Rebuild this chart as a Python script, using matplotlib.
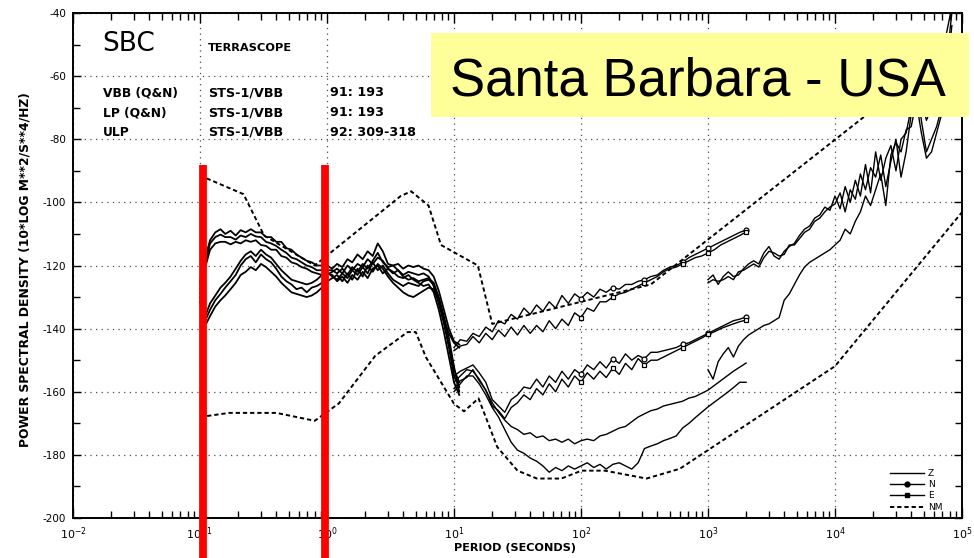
import matplotlib
matplotlib.use("Agg")
import matplotlib.pyplot as plt
from matplotlib.lines import Line2D
from matplotlib.patches import Rectangle
from matplotlib.ticker import LogLocator, NullFormatter, FixedLocator

plt.rcParams['font.family'] = ['DejaVu Sans']
plt.rcParams['axes.unicode_minus'] = False

# ---------------- data ----------------
x_ticks = [1e-2, 1e-1, 1e0, 1e1, 1e2, 1e3, 1e4, 1e5]
x_tick_labels = ['$10^{-2}$', '$10^{-1}$', '$10^{0}$', '$10^{1}$',
                 '$10^{2}$', '$10^{3}$', '$10^{4}$', '$10^{5}$']
y_ticks = [-200, -180, -160, -140, -120, -100, -80, -60, -40]
y_tick_labels = ['-200', '-180', '-160', '-140', '-120', '-100', '-80', '-60', '-40']

# Peterson noise models (NM)
nhnm_period = [0.1, 0.22, 0.32, 0.8, 3.8, 4.6, 6.3, 7.9, 15.4, 20.0, 354.8, 100000]
nhnm_db = [-91.5, -97.4, -110.5, -120.0, -98.0, -96.5, -101.0, -113.5, -120.0, -138.5, -126.0, -48.5]
nlnm_period = [0.1, 0.17, 0.4, 0.8, 1.24, 2.4, 4.3, 5.0, 6.0, 10.0, 12.0, 15.6, 21.9,
               31.6, 45.0, 70.0, 101.0, 154.0, 328.0, 600.0, 10000, 100000]
nlnm_db = [-168.0, -166.7, -166.7, -169.2, -163.7, -148.6, -141.1, -141.1, -149.0, -163.8,
           -166.2, -162.1, -177.5, -185.0, -187.5, -187.5, -185.0, -185.0, -187.5, -184.4,
           -151.9, -103.1]

# VBB band (0.1 - 11 s)
vbb_period = [0.100, 0.110, 0.120, 0.132, 0.145, 0.158, 0.174, 0.191, 0.209, 0.229,
              0.251, 0.275, 0.302, 0.331, 0.363, 0.398, 0.437, 0.479, 0.525, 0.575,
              0.631, 0.692, 0.759, 0.832, 0.912, 1.00, 1.10, 1.20, 1.32, 1.45,
              1.58, 1.74, 1.91, 2.09, 2.29, 2.51, 2.75, 3.02, 3.31, 3.63,
              3.98, 4.37, 4.79, 5.25, 5.75, 6.31, 6.92, 7.59, 8.32, 9.12, 10.0, 11.0]
vbb_1 = [-125.0, -117.5, -112.0, -109.5, -108.5, -110.0, -109.0, -110.5, -108.8, -109.5,
         -108.5, -109.5, -109.5, -111.0, -111.0, -112.5, -112.5, -114.5, -115.0, -116.5,
         -117.5, -118.5, -119.0, -120.0, -120.0, -120.0,
         -121.0, -119.5, -120.5, -118.0, -119.0, -116.5, -118.0, -115.5, -117.0, -113.0,
         -115.5, -119.5, -120.0, -119.5, -121.0, -120.0, -120.5, -120.0, -121.0, -121.5,
         -123.5, -128.0, -134.0, -140.0, -144.0, -145.0]
vbb_2 = [-127.5, -120.5, -115.0, -113.0, -112.5, -112.5, -113.3, -112.5, -113.0, -112.0,
         -112.5, -112.0, -113.5, -113.8, -115.0, -115.0, -117.0, -117.5, -119.0, -119.5,
         -120.5, -121.0, -122.0, -122.5, -123.0, -123.0,
         -122.0, -121.0, -122.5, -120.0, -121.5, -119.5, -120.5, -118.0, -119.5, -117.5,
         -118.5, -121.0, -122.5, -121.5, -123.0, -122.0, -122.5, -123.0, -122.5, -123.5,
         -126.5, -132.0, -138.0, -145.0, -153.0, -157.0]
vbb_3 = [-126.0, -119.0, -113.0, -111.0, -110.2, -111.0, -111.0, -111.8, -110.5, -111.0,
         -110.0, -110.8, -111.0, -112.5, -113.0, -113.8, -115.0, -116.0, -117.5, -118.0,
         -119.0, -120.0, -120.5, -121.5, -121.5, -121.5,
         -121.5, -122.5, -121.0, -123.0, -120.5, -122.0, -119.5, -121.0, -118.5, -116.0,
         -119.0, -120.5, -120.0, -121.5, -123.5, -124.5, -124.0, -125.0, -124.5, -124.0,
         -125.5, -130.0, -136.0, -143.0, -152.0, -160.0]
vbb_4 = [-128.5, -136.0, -132.0, -129.5, -127.0, -125.5, -123.5, -121.0, -118.5, -116.5,
         -115.5, -117.0, -115.0, -116.5, -117.5, -119.5, -121.5, -123.0, -124.5, -125.0,
         -125.5, -126.0, -125.5, -124.5, -123.0, -122.0,
         -123.5, -124.5, -122.5, -124.0, -121.5, -123.0, -120.5, -122.5, -119.0, -121.5,
         -120.0, -122.5, -124.5, -125.5, -126.5, -125.5, -126.0, -126.5, -125.0, -124.5,
         -126.0, -131.0, -137.0, -141.5, -144.5, -146.0]
vbb_5 = [-131.5, -139.0, -136.0, -133.0, -131.0, -129.5, -127.5, -125.5, -123.0, -122.0,
         -120.5, -121.5, -119.5, -120.5, -122.0, -123.5, -125.5, -127.0, -128.5, -129.0,
         -129.5, -130.0, -129.5, -128.5, -127.0, -125.0,
         -124.0, -123.0, -125.0, -122.5, -124.5, -121.0, -123.5, -120.0, -122.0, -119.5,
         -121.0, -123.5, -125.5, -127.0, -128.5, -129.5, -130.0, -129.0, -128.0, -127.0,
         -127.5, -131.5, -138.0, -146.0, -155.0, -158.5]
vbb_6 = [-130.0, -137.5, -134.0, -131.0, -129.0, -127.0, -125.0, -123.0, -120.0, -118.0,
         -117.0, -119.0, -116.5, -118.0, -119.0, -121.0, -123.5, -125.0, -126.0, -127.5,
         -127.0, -128.5, -127.0, -126.5, -125.5, -122.5,
         -123.0, -125.0, -123.5, -125.5, -123.0, -124.5, -122.0, -124.0, -121.0, -120.0,
         -122.5, -121.0, -122.0, -123.5, -124.0, -123.0, -124.5, -125.5, -126.5, -126.0,
         -128.5, -134.0, -141.0, -149.0, -157.0, -161.0]

# LP band (10 - 2000 s)
lp_period = [10.0, 11.2, 12.6, 14.1, 15.8, 17.8, 20.0, 22.4, 25.1, 28.2,
             31.6, 35.5, 39.8, 44.7, 50.1, 56.2, 63.1, 70.8, 79.4, 89.1,
             100, 112, 126, 141, 158, 178, 200, 224, 251, 282,
             316, 355, 398, 447, 501, 562, 631, 708, 794, 891,
             1000, 1122, 1259, 1413, 1585, 1778, 1995]
lp_n_noisy = [-146.0, -143.5, -144.0, -141.5, -142.5, -139.5, -141.0, -137.5, -138.5, -135.5,
              -137.0, -133.5, -135.5, -132.5, -134.5, -131.5, -133.5, -129.5, -132.0, -129.0,
              -130.5, -128.5, -130.0, -127.5, -128.5, -127.0, -127.5, -126.0, -126.0, -125.0,
              -124.5, -123.5, -123.0, -121.5, -120.5, -120.0, -119.0, -117.5, -116.5, -115.5,
              -114.5, -113.5, -112.5, -111.5, -110.5, -109.5, -108.8]
lp_e_noisy = [-147.0, -145.5, -145.0, -142.5, -144.5, -141.5, -143.5, -140.5, -142.5, -139.5,
              -142.0, -139.0, -141.5, -139.0, -141.0, -137.5, -140.0, -137.0, -139.0, -135.0,
              -136.5, -133.5, -134.5, -131.5, -131.5, -130.0, -129.0, -128.5, -127.5, -126.5,
              -125.5, -124.5, -123.5, -122.0, -121.0, -120.5, -119.5, -118.5, -117.5, -117.0,
              -116.0, -115.0, -113.5, -112.5, -111.5, -110.5, -109.4]
lp_n_quiet = [-155.0, -153.5, -152.5, -151.5, -154.0, -157.0, -162.5, -164.5, -166.5, -162.5,
              -161.0, -158.5, -159.0, -156.0, -158.5, -155.0, -157.0, -153.5, -156.0, -153.0,
              -154.5, -151.5, -153.0, -150.5, -152.5, -149.5, -151.0, -148.0, -150.0, -148.5,
              -149.5, -147.5, -147.5, -147.0, -146.5, -146.0, -145.0, -144.5, -143.5, -142.5,
              -141.5, -140.5, -139.5, -138.5, -137.5, -137.0, -136.3]
lp_e_quiet = [-159.0, -156.5, -155.5, -153.0, -156.5, -159.5, -164.5, -166.0, -168.5, -165.0,
              -163.5, -161.0, -162.5, -159.0, -161.0, -157.5, -160.0, -156.0, -158.5, -155.0,
              -157.0, -154.0, -156.0, -153.5, -155.5, -152.5, -154.5, -151.0, -153.0, -149.5,
              -151.5, -150.0, -150.0, -149.0, -148.0, -147.0, -146.0, -145.0, -144.0, -143.0,
              -141.8, -141.0, -140.0, -139.2, -138.5, -137.8, -137.3]
lp_z_noisy = [-157.0, -155.0, -153.0, -153.5, -156.0, -159.5, -163.5, -166.5, -169.0, -171.0,
              -172.0, -173.5, -173.0, -174.5, -174.0, -175.5, -175.0, -176.0, -175.0, -176.5,
              -175.5, -175.0, -175.5, -174.0, -173.5, -172.5, -171.5, -171.0, -169.5, -168.0,
              -167.0, -166.0, -165.5, -164.5, -164.0, -163.5, -163.0, -162.0, -161.5, -160.5,
              -159.5, -158.0, -156.5, -155.0, -153.5, -152.2, -150.9]
lp_z_quiet = [-160.0, -157.5, -155.0, -155.0, -157.5, -161.0, -165.0, -168.0, -172.0, -176.0,
              -178.5, -179.5, -181.0, -182.0, -183.5, -185.5, -184.0, -185.0, -183.5, -184.5,
              -183.5, -182.5, -184.0, -183.0, -184.5, -183.0, -182.5, -183.5, -184.5, -182.5,
              -178.0, -177.2, -176.5, -175.5, -174.8, -174.0, -171.5, -170.0, -168.2, -166.5,
              -164.8, -163.3, -161.8, -160.3, -158.7, -157.0, -157.0]

# ULP band (1000 - 83000 s)
ulp_period = [1000, 1096, 1202, 1318, 1445, 1585, 1738, 1905, 2089, 2291,
              2512, 2754, 3020, 3311, 3631, 3981, 4365, 4786, 5248, 5754,
              6310, 6918, 7586, 8318, 9120, 10000, 10965, 12023, 13183, 14454,
              15849, 17378, 19055, 20893, 22909, 25119, 27542, 30200, 33113, 36308,
              39811, 43652, 47863, 52481, 57544, 63096, 69183, 75858, 83176]
ulp_a = [-124.5, -123.0, -126.0, -123.5, -122.0, -123.5, -123.0, -121.0, -119.5, -118.5,
         -119.5, -116.0, -114.0, -117.0, -118.0, -115.5, -114.0, -113.0, -110.5, -108.5,
         -107.5, -105.0, -104.0, -101.5, -102.5, -98.0, -102.0, -95.0, -100.0, -93.0,
         -98.0, -88.0, -97.0, -84.0, -93.0, -86.0, -82.0, -90.0, -80.0, -78.0,
         -70.0, -62.0, -74.0, -84.0, -80.0, -76.0, -70.0, -55.0, -40.0]
ulp_b = [-125.5, -124.5, -125.0, -124.5, -123.5, -124.5, -122.0, -121.5, -120.5, -119.5,
         -120.5, -117.5, -115.5, -116.0, -117.0, -116.5, -113.5, -113.5, -111.5, -109.5,
         -108.5, -106.0, -105.0, -103.0, -101.5, -100.5, -97.0, -103.0, -96.0, -99.0,
         -91.0, -96.0, -89.0, -92.0, -85.0, -95.0, -87.0, -80.0, -92.0, -84.0,
         -72.0, -64.0, -68.0, -74.0, -70.0, -62.0, -56.0, -46.0, -38.0]
ulp_z = [-153.0, -156.0, -150.5, -148.0, -146.0, -149.0, -145.5, -143.5, -142.0, -141.0,
         -140.0, -139.0, -138.5, -137.5, -136.5, -131.0, -129.0, -126.0, -123.0, -120.5,
         -119.0, -118.0, -117.0, -116.0, -115.0, -113.5, -112.0, -108.5, -110.0, -106.0,
         -103.0, -98.0, -101.0, -96.0, -91.0, -101.0, -85.0, -81.0, -84.0, -77.0,
         -76.0, -68.0, -78.0, -86.0, -84.0, -78.0, -72.0, -60.0, -44.0]

marker_idx = [20, 25, 30, 36, 40, 46]
red_bar_periods = [0.1047, 0.964]
legend_labels = ['Z', 'N', 'E', 'NM']

# ---------------- figure ----------------
fig = plt.figure(figsize=(9.74, 5.58), dpi=100)
ax = fig.add_axes([73 / 974, 40 / 558, 889 / 974, 505 / 558])
ax.set_xscale('log')
ax.set_xlim(1e-2, 1e5)
ax.set_ylim(-200, -40)

LW = 1.0
nm_style = (0, (2.2, 1.5))
ax.plot(nhnm_period, nhnm_db, color='k', lw=1.4, ls=nm_style)
ax.plot(nlnm_period, nlnm_db, color='k', lw=1.4, ls=nm_style)

for y in [vbb_1, vbb_2, vbb_3, vbb_4, vbb_5, vbb_6]:
    ax.plot(vbb_period, y, color='k', lw=1.3)

ax.plot(lp_period, lp_z_noisy, color='k', lw=LW)
ax.plot(lp_period, lp_z_quiet, color='k', lw=LW)
ax.plot(lp_period, lp_n_noisy, color='k', lw=LW, marker='o', ms=3.5,
        mfc='white', mec='k', mew=0.9, markevery=marker_idx)
ax.plot(lp_period, lp_e_noisy, color='k', lw=LW, marker='s', ms=3,
        mfc='white', mec='k', mew=0.9, markevery=marker_idx)
ax.plot(lp_period, lp_n_quiet, color='k', lw=LW, marker='o', ms=3.5,
        mfc='white', mec='k', mew=0.9, markevery=marker_idx)
ax.plot(lp_period, lp_e_quiet, color='k', lw=LW, marker='s', ms=3,
        mfc='white', mec='k', mew=0.9, markevery=marker_idx)

for y in [ulp_a, ulp_b, ulp_z]:
    ax.plot(ulp_period, y, color='k', lw=LW)

# axes styling
ax.set_xticks(x_ticks)
ax.set_xticklabels(x_tick_labels, fontsize=8)
ax.xaxis.set_minor_locator(LogLocator(base=10, subs=range(2, 10), numticks=20))
ax.xaxis.set_minor_formatter(NullFormatter())
ax.set_yticks(y_ticks)
ax.set_yticklabels(y_tick_labels, fontsize=7.5)
ax.yaxis.set_minor_locator(FixedLocator([t + 10 for t in y_ticks[:-1]]))
ax.tick_params(which='both', direction='in', top=True, right=True, width=1.0)
ax.tick_params(which='major', length=7, pad=5)
ax.tick_params(which='minor', length=5)
ax.tick_params(axis='y', which='major', length=6)
for s in ax.spines.values():
    s.set_linewidth(1.4)
ax.grid(True, which='major', ls=(0, (1, 3.5)), color='0.3', lw=0.9)

# legend
handles = [Line2D([], [], color='k', lw=LW),
           Line2D([], [], color='k', lw=LW, marker='o', ms=3.5),
           Line2D([], [], color='k', lw=LW, marker='s', ms=2.5),
           Line2D([], [], color='k', lw=1.4, ls=nm_style)]
ax.legend(handles, legend_labels, loc='lower right', bbox_to_anchor=(0.985, 0.0),
          frameon=False, fontsize=6.5, handlelength=3.8, labelspacing=0.25,
          handletextpad=0.4, borderaxespad=0.3)

# header texts
fig.text(102 / 974, 1 - 44 / 558, 'SBC', fontsize=19, va='center', ha='left')
fig.text(208 / 974, 1 - 48 / 558, 'TERRASCOPE', fontsize=8.2, fontweight='bold', va='center')
rows = [('VBB (Q&N)', 'STS-1/VBB', '91: 193', 93),
        ('LP (Q&N)', 'STS-1/VBB', '91: 193', 113),
        ('ULP', 'STS-1/VBB', '92: 309-318', 132.5)]
for a, b, c, ypx in rows:
    fy = 1 - ypx / 558
    fig.text(103 / 974, fy, a, fontsize=8.8, fontweight='bold', va='center')
    fig.text(208 / 974, fy, b, fontsize=9.2, fontweight='bold', va='center')
    fig.text(330 / 974, fy, c, fontsize=9.2, fontweight='bold', va='center')

fig.text(25 / 974, 1 - 270 / 558, 'POWER SPECTRAL DENSITY (10*LOG M**2/S**4/HZ)',
         rotation=90, fontsize=8.9, fontweight='bold', ha='center', va='center')
fig.text(515 / 974, 1 - 548 / 558, 'PERIOD (SECONDS)', fontsize=8.1,
         fontweight='bold', ha='center', va='center')

# red markers
for p in red_bar_periods:
    ax.axvline(p, ymin=-0.08, ymax=0.699, color='#ff0000', lw=5.6,
               solid_capstyle='butt', clip_on=False, zorder=10)

# yellow title box
fig.add_artist(Rectangle((431 / 974, 1 - 117 / 558), 538 / 974, 84 / 558,
                         transform=fig.transFigure, facecolor='#ffff99',
                         edgecolor='none', zorder=20))
fig.text(697.5 / 974, 1 - 95 / 558, 'Santa Barbara - USA', fontsize=38,
         family=['Liberation Sans'], ha='center', va='baseline', zorder=21)

fig.savefig('out.png', dpi=100)
